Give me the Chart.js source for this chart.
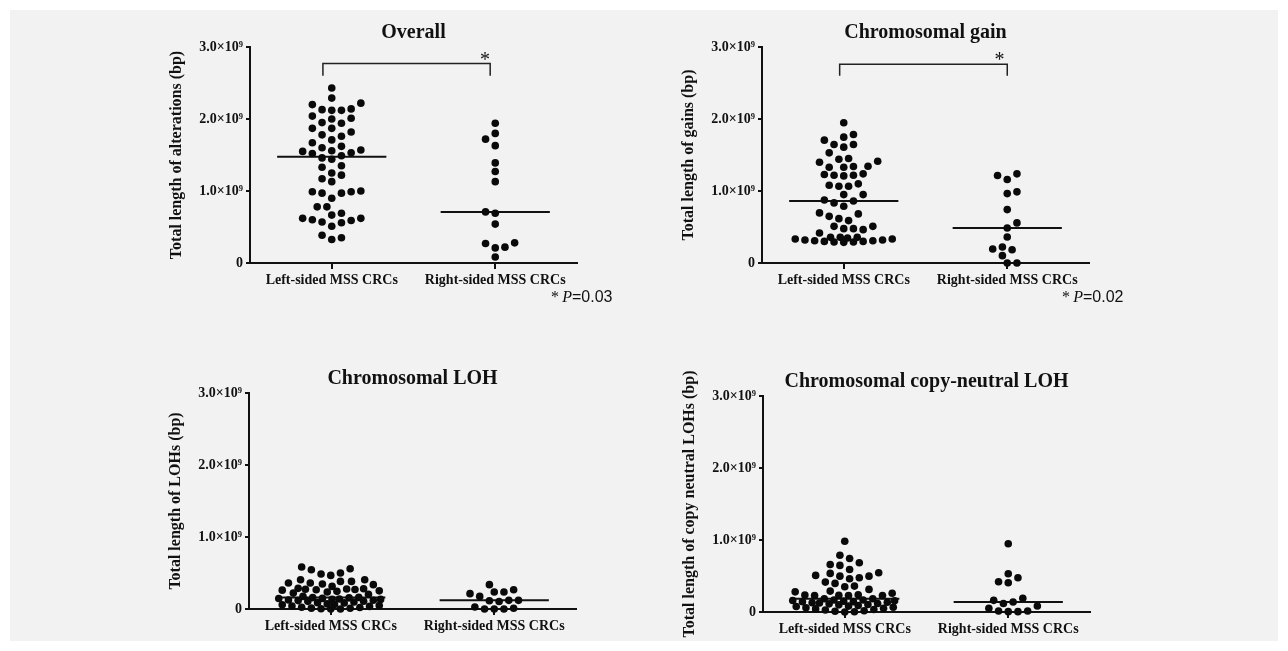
<!DOCTYPE html>
<html>
<head>
<meta charset="utf-8">
<script src="https://cdn.jsdelivr.net/npm/chart.js@4.4.1/dist/chart.umd.min.js"></script>
<style>
  html, body { margin: 0; padding: 0; background: #fff; }
  #page { position: relative; width: 1288px; height: 651px; overflow: hidden; }
  #bg { position: absolute; left: 10px; top: 10px; width: 1268px; height: 631px; background: #f2f2f2; }
  canvas { position: absolute; }
  .note { position: absolute; font-family: "Liberation Sans", Arial, sans-serif; font-size: 16px; color: #111; white-space: nowrap; line-height: 18px; }
  .note .s { font-family: "Liberation Serif", "Times New Roman", serif; }
</style>
</head>
<body>
<div id="page">
  <div id="bg"></div>
  <canvas id="c1" width="502" height="296" style="left:155px; top:7px"></canvas>
  <canvas id="c2" width="502" height="296" style="left:667px; top:7px"></canvas>
  <canvas id="c3" width="502" height="296" style="left:154px; top:353px"></canvas>
  <canvas id="c4" width="502" height="296" style="left:668px; top:356px"></canvas>
  <div class="note" style="left:551px; top:288px"><span class="s">*</span>&thinsp;<i class="s">P</i>=0.03</div>
  <div class="note" style="left:1062px; top:288px"><span class="s">*</span>&thinsp;<i class="s">P</i>=0.02</div>
</div>
<script>
// values in units of 10^9 bp
const groups = ["Left-sided MSS CRCs", "Right-sided MSS CRCs"];
const yTicks = [0, 1, 2, 3];

const overallLeft = [2.43, 2.29, 2.22, 2.20, 2.13, 2.12, 2.14, 2.12, 1.95, 2.01, 2.00, 2.04, 1.94,
  1.87, 1.87, 1.78, 1.82, 1.76, 1.71, 1.67, 1.60, 1.56, 1.53, 1.62, 1.57, 1.55, 1.46, 1.49, 1.52,
  1.44, 1.35, 1.33, 1.22, 1.25, 1.13, 1.17, 1.00, 0.99, 0.97, 0.97, 0.99, 0.90, 0.78, 0.78, 0.665,
  0.69, 0.62, 0.59, 0.56, 0.57, 0.60, 0.62, 0.51, 0.386, 0.35, 0.326];
const overallRight = [1.94, 1.80, 1.72, 1.63, 1.39, 1.27, 1.13, 0.71, 0.69, 0.54, 0.28, 0.22, 0.27, 0.21, 0.084];

const gainLeft = [1.948, 1.785, 1.748, 1.706, 1.646, 1.609, 1.646, 1.53, 1.451, 1.414, 1.40, 1.441,
  1.33, 1.344, 1.33, 1.34, 1.229, 1.219, 1.21, 1.238, 1.219, 1.08, 1.066, 1.099, 1.066, 0.95, 0.95,
  0.875, 0.835, 0.788, 0.862, 0.696, 0.648, 0.589, 0.616, 0.682, 0.509, 0.477, 0.463, 0.477, 0.509,
  0.417, 0.356, 0.334, 0.32, 0.31, 0.30, 0.292, 0.287, 0.292, 0.30, 0.31, 0.32, 0.334, 0.348, 0.356, 0.356];
const gainRight = [1.238, 1.159, 1.215, 0.988, 0.964, 0.742, 0.557, 0.487, 0.362, 0.195, 0.185, 0.223, 0.102, 0.0, 0.0];

const lohLeft = [0.583, 0.546, 0.486, 0.467, 0.50, 0.56, 0.407, 0.383, 0.347, 0.361, 0.314, 0.338,
  0.361, 0.383, 0.407, 0.287, 0.281, 0.262, 0.275, 0.27, 0.245, 0.268, 0.252, 0.278, 0.236, 0.221,
  0.205, 0.175, 0.161, 0.158, 0.155, 0.147, 0.146, 0.139, 0.134, 0.133, 0.124, 0.121, 0.117, 0.108,
  0.106, 0.097, 0.088, 0.085, 0.071, 0.064, 0.06, 0.047, 0.041, 0.036, 0.024, 0.021, 0.012, 0.01,
  0.003, 0.0, 0.0];
const lohRight = [0.338, 0.236, 0.213, 0.175, 0.236, 0.268, 0.12, 0.12, 0.105, 0.115, 0.028, 0.0, 0.0, 0.0, 0.01];

const cnLohLeft = [0.983, 0.789, 0.743, 0.684, 0.66, 0.591, 0.647, 0.536, 0.498, 0.462, 0.498, 0.476,
  0.508, 0.545, 0.397, 0.351, 0.29, 0.314, 0.36, 0.415, 0.28, 0.236, 0.23, 0.232, 0.228, 0.23, 0.24,
  0.26, 0.185, 0.185, 0.166, 0.166, 0.16, 0.155, 0.151, 0.144, 0.142, 0.136, 0.129, 0.126, 0.118,
  0.113, 0.104, 0.099, 0.09, 0.082, 0.077, 0.066, 0.058, 0.051, 0.043, 0.034, 0.027, 0.018, 0.011,
  0.004, 0.0];
const cnLohRight = [0.947, 0.531, 0.476, 0.407, 0.421, 0.118, 0.162, 0.138, 0.19, 0.083, 0.051, 0.014, 0.005, 0.005, 0.014];

const SERIF = '"Liberation Serif", "Times New Roman", serif';
const INK = "#111";

const panels = [
  { el: "c1", title: "Overall", yTitle: "Total length of alterations (bp)",
    sets: [overallLeft, overallRight], bracket: { x: [-0.054, 0.969], y: [2.6, 2.77] }, star: [0.937, 2.87] },
  { el: "c2", title: "Chromosomal gain", yTitle: "Total length of gains (bp)",
    sets: [gainLeft, gainRight], bracket: { x: [-0.025, 1.0], y: [2.6, 2.76] }, star: [0.952, 2.87] },
  { el: "c3", title: "Chromosomal LOH", yTitle: "Total length of LOHs (bp)",
    sets: [lohLeft, lohRight] },
  { el: "c4", title: "Chromosomal copy-neutral LOH", yTitle: "Total length of copy neutral LOHs (bp)",
    sets: [cnLohLeft, cnLohRight] },
];

function median(vals) {
  const s = [...vals].sort((a, b) => a - b);
  const m = Math.floor(s.length / 2);
  return s.length % 2 ? s[m] : (s[m - 1] + s[m]) / 2;
}

// prism-like scatter: each point (lowest first) takes the free sideways slot
// nearest the centre; dots need a full slot pair sideways unless well apart vertically
const STEP = 4.85, DX = 9.7, DY = 8.5, CAP = 52;
function swarm(vals, center, xs, ys) {
  const pxPerUnit = xs.getPixelForValue(1) - xs.getPixelForValue(0);
  const order = vals.map((v, i) => i).sort((a, b) => vals[a] - vals[b]);
  const placed = [];
  const out = new Array(vals.length);
  const clash = (dx, py) => {
    let m = Infinity;
    placed.forEach((p) => { m = Math.min(m, Math.hypot((p.dx - dx) / DX, (p.py - py) / DY)); });
    return m;
  };
  let balance = 0;
  order.forEach((i) => {
    const py = ys.getPixelForValue(vals[i]);
    let best = null;
    for (let k = 0; k * STEP <= CAP && best === null; k++) {
      const cands = k === 0 ? [0] : balance > 0 ? [-k * STEP, k * STEP] : [k * STEP, -k * STEP];
      for (const dx of cands) {
        if (clash(dx, py) >= 0.99) { best = dx; break; }
      }
    }
    if (best === null) {
      let score = -1;
      for (let dx = -CAP; dx <= CAP; dx += STEP / 2) {
        const d = clash(dx, py) - Math.abs(dx) * 0.002;
        if (d > score) { score = d; best = dx; }
      }
    }
    placed.push({ dx: best, py });
    balance += best;
    out[i] = { x: center + best / pxPerUnit, y: vals[i] };
  });
  return out;
}

const decor = {
  id: "decor",
  afterDatasetsDraw(chart, args, opts) {
    const { ctx, chartArea: a, scales: { x, y } } = chart;
    ctx.save();
    ctx.fillStyle = INK;
    ctx.textAlign = "center";
    ctx.textBaseline = "middle";
    ctx.font = "bold 20px " + SERIF;
    ctx.fillText(opts.title, (a.left + a.right) / 2, a.top - 14.5);
    if (opts.star) {
      ctx.font = "20px " + SERIF;
      ctx.fillText("*", x.getPixelForValue(opts.star[0]), y.getPixelForValue(opts.star[1]) + 4);
    }
    ctx.restore();
  },
};

panels.forEach((p) => {
  const datasets = [];
  p.sets.forEach((vals, i) => {
    datasets.push({
      type: "scatter",
      data: vals.map((v) => ({ x: i, y: v })),
      backgroundColor: "#0a0a0a",
      borderWidth: 0,
      pointRadius: 3.8,
      pointHoverRadius: 3.8,
      clip: false,
    });
  });
  p.sets.forEach((vals, i) => {
    const m = median(vals);
    datasets.push({
      type: "line",
      data: [{ x: i - 0.334, y: m }, { x: i + 0.334, y: m }],
      borderColor: INK,
      borderWidth: 2,
      pointRadius: 0,
      clip: false,
    });
  });
  if (p.bracket) {
    const b = p.bracket;
    datasets.push({
      type: "line",
      data: [
        { x: b.x[0], y: b.y[0] }, { x: b.x[0], y: b.y[1] },
        { x: b.x[1], y: b.y[1] }, { x: b.x[1], y: b.y[0] },
      ],
      borderColor: "#222",
      borderWidth: 1.5,
      pointRadius: 0,
      tension: 0,
    });
  }

  const chart = new Chart(document.getElementById(p.el), {
    type: "scatter",
    data: { datasets },
    plugins: [decor],
    options: {
      responsive: false,
      animation: false,
      events: [],
      layout: { padding: { left: 0, right: 80, top: 40, bottom: 0 } },
      plugins: {
        legend: { display: false },
        tooltip: { enabled: false },
        decor: { title: p.title, star: p.star },
      },
      scales: {
        x: {
          type: "linear",
          min: -0.5,
          max: 1.5,
          afterFit: (s) => { s.height = 40; },
          afterBuildTicks: (s) => { s.ticks = [{ value: 0 }, { value: 1 }]; },
          ticks: {
            callback: (v) => groups[v],
            color: INK,
            font: { family: SERIF, size: 14, weight: "bold" },
            padding: 3,
            maxRotation: 0,
            autoSkip: false,
          },
          grid: { drawOnChartArea: false, drawTicks: true, tickLength: 6, color: INK, lineWidth: 2 },
          border: { color: INK, width: 2 },
        },
        y: {
          min: 0,
          max: 3,
          afterFit: (s) => { s.width = 95; },
          afterBuildTicks: (s) => { s.ticks = yTicks.map((v) => ({ value: v })); },
          ticks: {
            callback: (v) => (v === 0 ? "0" : v.toFixed(1) + "×10⁹"),
            color: INK,
            font: { family: SERIF, size: 14, weight: "bold" },
            padding: 3,
          },
          grid: { drawOnChartArea: false, drawTicks: true, tickLength: 4, color: INK, lineWidth: 2 },
          border: { color: INK, width: 2 },
          title: {
            display: true,
            text: p.yTitle,
            color: INK,
            font: { family: SERIF, size: 16, weight: "bold" },
            padding: { top: 12.4, bottom: 0 },
          },
        },
      },
    },
  });

  p.sets.forEach((vals, i) => {
    chart.data.datasets[i].data = swarm(vals, i, chart.scales.x, chart.scales.y);
  });
  chart.update("none");
});
</script>
</body>
</html>
